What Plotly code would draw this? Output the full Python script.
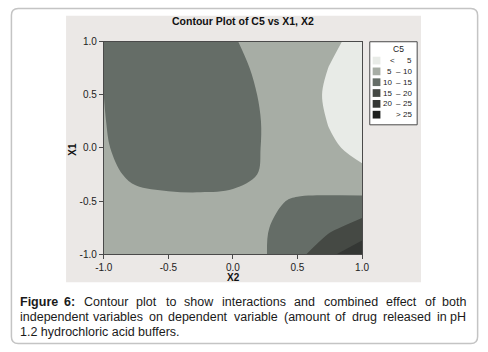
import plotly.graph_objects as go

# ---------------- data ----------------
x2_vals = [-1.0, -0.75, -0.5, -0.25, 0.0, 0.25, 0.5, 0.75, 1.0]
x1_vals = [-1.0, -0.75, -0.5, -0.25, 0.0, 0.25, 0.5, 0.75, 1.0]
# C5 response, rows = X1 (from -1 to 1), columns = X2 (from -1 to 1)
c5_row_m100 = [6.5, 7.4, 8.0, 8.5, 9.0, 9.8, 13.4, 19.2, 23.0]
c5_row_m075 = [7.0, 7.8, 8.3, 8.6, 9.0, 9.7, 12.0, 14.0, 17.2]
c5_row_m050 = [7.5, 8.6, 9.1, 9.2, 9.0, 9.3, 10.4, 10.9, 11.2]
c5_row_m025 = [8.6, 11.0, 11.5, 11.6, 11.2, 9.6, 8.0, 6.8, 5.6]
c5_row_p000 = [9.75, 11.0, 12.0, 12.3, 11.8, 9.7, 7.5, 5.45, 4.2]
c5_row_p025 = [9.9, 11.3, 12.3, 12.5, 12.0, 9.7, 7.0, 4.8, 3.3]
c5_row_p050 = [10.0, 11.8, 12.5, 12.5, 11.8, 9.4, 6.6, 4.5, 3.2]
c5_row_p075 = [10.5, 12.0, 12.6, 12.5, 11.3, 8.8, 6.8, 4.9, 3.5]
c5_row_p100 = [10.8, 12.0, 12.5, 12.0, 10.3, 8.5, 7.0, 5.6, 4.0]

levels_start, levels_end, levels_step = 5, 25, 5
band_labels = [("<", "", "5"), ("5", "\u2013", "10"), ("10", "\u2013", "15"),
               ("15", "\u2013", "20"), ("20", "\u2013", "25"), (">", "", "25")]
band_colors = ["#e8ebe7", "#a7ada5", "#656d67", "#454944", "#343734", "#1d1f1d"]

tick_vals = [-1.0, -0.5, 0.0, 0.5, 1.0]
tick_text = ["-1.0", "-0.5", "0.0", "0.5", "1.0"]

caption_bold = "Figure 6:"
caption_line1 = "Contour plot to show interactions and combined effect of both"
caption_line2 = "independent variables on dependent variable (amount of drug released in pH"
caption_line3 = "1.2 hydrochloric acid buffers."

# ---------------- layout helpers ----------------
W, H = 488, 352
def px(x):
    return x / W
def py(y):
    return 1 - y / H

# Arial / Liberation Sans advance widths (1/1000 em) for justification
REG = {' ': 278, '(': 333, ')': 333, '.': 278, ':': 278, 'C': 722, 'F': 611, 'H': 722, 'P': 667,
       'a': 556, 'b': 556, 'c': 500, 'd': 556, 'e': 556, 'f': 278, 'g': 556, 'h': 556, 'i': 222,
       'l': 222, 'm': 833, 'n': 556, 'o': 556, 'p': 556, 'r': 333, 's': 500, 't': 278, 'u': 556,
       'v': 500, 'w': 722, 'y': 500}
BOLD = {'F': 611, 'i': 278, 'g': 611, 'u': 611, 'r': 389, 'e': 556, ':': 333}
def text_w(s, size, bold=False):
    tab = BOLD if bold else REG
    return sum(tab.get(ch, 556) for ch in s) / 1000 * size * 1.04

z = [c5_row_m100, c5_row_m075, c5_row_m050, c5_row_m025, c5_row_p000,
     c5_row_p025, c5_row_p050, c5_row_p075, c5_row_p100]

n = len(band_colors)
colorscale = [[i / (n - 1), c] for i, c in enumerate(band_colors)]

fig = go.Figure()
fig.add_trace(go.Contour(
    x=x2_vals, y=x1_vals, z=z,
    autocontour=False,
    contours=dict(start=levels_start, end=levels_end, size=levels_step,
                  coloring="fill", showlines=False),
    line=dict(width=0, smoothing=1.0),
    colorscale=colorscale,
    showscale=False,
    hoverinfo="skip",
))

chart_font = "Liberation Sans, Arial, sans-serif"

axis_common = dict(
    range=[-1, 1], tickvals=tick_vals, ticktext=tick_text,
    showline=True, linecolor="#4a4a4a", linewidth=1, mirror=True,
    ticks="outside", ticklen=4, tickcolor="#4a4a4a", tickwidth=1,
    showgrid=False, zeroline=False,
    tickfont=dict(family=chart_font, size=10, color="#222222"),
)
fig.update_xaxes(domain=[px(98), px(365)], **axis_common)
fig.update_yaxes(domain=[py(257), py(37)], **axis_common)

shapes = []
# outer rounded page border
r = 7
x0, y0, x1, y1 = 2.5, 2.5, 484.5, 349.5
path = (f"M {px(x0+r)},{py(y0)} L {px(x1-r)},{py(y0)} Q {px(x1)},{py(y0)} {px(x1)},{py(y0+r)} "
        f"L {px(x1)},{py(y1-r)} Q {px(x1)},{py(y1)} {px(x1-r)},{py(y1)} "
        f"L {px(x0+r)},{py(y1)} Q {px(x0)},{py(y1)} {px(x0)},{py(y1-r)} "
        f"L {px(x0)},{py(y0+r)} Q {px(x0)},{py(y0)} {px(x0+r)},{py(y0)} Z")
shapes.append(dict(type="path", xref="paper", yref="paper", path=path,
                   line=dict(color="#c4c4c4", width=1.5), fillcolor="rgba(0,0,0,0)", layer="below"))
# grey chart panel
shapes.append(dict(type="rect", xref="paper", yref="paper", x0=px(59), x1=px(426), y0=py(286), y1=py(10),
                   fillcolor="#ebe8e6", line=dict(width=0), layer="below"))
# legend box
shapes.append(dict(type="rect", xref="paper", yref="paper", x0=px(373), x1=px(422), y0=py(123), y1=py(37),
                   fillcolor="#ffffff", line=dict(color="#4a4a4a", width=1)))

annotations = []
annotations.append(dict(text="<b>Contour Plot of C5 vs X1, X2</b>", x=px(242), y=py(16), xref="paper", yref="paper",
                        showarrow=False, xanchor="center", yanchor="middle",
                        font=dict(family=chart_font, size=10.5, color="#111111")))
annotations.append(dict(text="<b>X2</b>", x=px(232), y=py(281), xref="paper", yref="paper",
                        showarrow=False, xanchor="center", yanchor="middle",
                        font=dict(family=chart_font, size=10, color="#111111")))
annotations.append(dict(text="<b>X1</b>", x=px(66), y=py(148), xref="paper", yref="paper",
                        showarrow=False, xanchor="center", yanchor="middle", textangle=-90,
                        font=dict(family=chart_font, size=10, color="#111111")))
# legend content
annotations.append(dict(text="C5", x=px(403), y=py(45), xref="paper", yref="paper",
                        showarrow=False, xanchor="center", yanchor="middle",
                        font=dict(family=chart_font, size=8.5, color="#222222")))
row_y0, row_dy = 56.5, 11.2
for i, (lab, col) in enumerate(zip(band_labels, band_colors)):
    yc = row_y0 + i * row_dy
    shapes.append(dict(type="rect", xref="paper", yref="paper", x0=px(376), x1=px(384),
                       y0=py(yc + 4), y1=py(yc - 4), fillcolor=col, line=dict(width=0)))
    left, dash, right = lab
    lf = dict(family=chart_font, size=8, color="#222222")
    if dash:
        annotations.append(dict(text=left, x=px(398), y=py(yc), xref="paper", yref="paper", showarrow=False,
                                xanchor="right", yanchor="middle", font=lf))
        annotations.append(dict(text=dash, x=px(403), y=py(yc), xref="paper", yref="paper", showarrow=False,
                                xanchor="center", yanchor="middle", font=lf))
    else:
        annotations.append(dict(text=left, x=px(397 if left == "<" else 403), y=py(yc), xref="paper", yref="paper",
                                showarrow=False, xanchor="center", yanchor="middle", font=lf))
    annotations.append(dict(text=right, x=px(419), y=py(yc), xref="paper", yref="paper", showarrow=False,
                            xanchor="right", yanchor="middle", font=lf))

# caption (justified lines 1-2, left-aligned last line)
cap_font = "Liberation Sans, Arial, sans-serif"
cap_size = 12.5
cap_left, cap_right = 9, 475
def justified(words, yc):
    ws = [text_w(w, cap_size, b) for w, b in words]
    gap = (cap_right - cap_left - sum(ws)) / (len(words) - 1)
    xcur = cap_left
    for k, ((w, b), wd) in enumerate(zip(words, ws)):
        if k == 0:
            xa, xv = "left", cap_left
        elif k == len(words) - 1:
            xa, xv = "right", cap_right
        else:
            xa, xv = "center", xcur + wd / 2
        annotations.append(dict(text=f"<b>{w}</b>" if b else w, x=px(xv), y=py(yc), xref="paper", yref="paper",
                                showarrow=False, xanchor=xa, yanchor="middle",
                                font=dict(family=cap_font, size=cap_size, color="#1a1a1a")))
        xcur += wd + gap

words1 = [(w, True) for w in caption_bold.split()] + [(w, False) for w in caption_line1.split()]
words2 = [(w, False) for w in caption_line2.split()]
justified(words1, 306.5)
justified(words2, 322)
annotations.append(dict(text=caption_line3, x=px(cap_left), y=py(338), xref="paper", yref="paper",
                        showarrow=False, xanchor="left", yanchor="middle",
                        font=dict(family=cap_font, size=cap_size, color="#1a1a1a")))

fig.update_layout(
    width=W, height=H, margin=dict(l=0, r=0, t=0, b=0),
    paper_bgcolor="#ffffff", plot_bgcolor="#a7ada5",
    shapes=shapes, annotations=annotations, showlegend=False,
)

fig.write_html("out.html")
